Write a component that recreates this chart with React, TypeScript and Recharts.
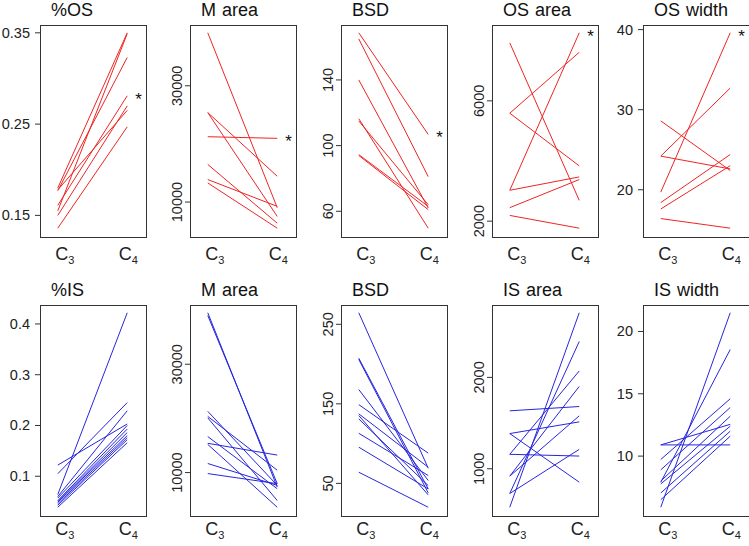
import React from 'react';
import { LineChart, Line, XAxis, YAxis } from 'recharts';

// values: C3 start, C4 end (one entry per line)
const osPctC3 = [0.180, 0.155, 0.177, 0.178, 0.161, 0.150, 0.136];
const osPctC4 = [0.350, 0.349, 0.323, 0.265, 0.281, 0.270, 0.247];

const mAreaTopC3 = [39110, 25385, 25385, 21236, 16465, 13872, 13284];
const mAreaTopC4 = [9032, 14442, 7528, 20960, 6370, 9257, 5505];

const bsdTopC3 = [168.7, 165.0, 140.0, 116.4, 115.0, 94.5, 94.0];
const bsdTopC4 = [106.8, 81.1, 62.0, 49.7, 64.0, 63.0, 61.0];

const osAreaC3 = [7928, 5589, 5589, 3026, 3026, 2448, 2190];
const osAreaC4 = [2692, 7614, 3838, 8262, 3470, 3383, 1766];

const osWidthC3 = [28.6, 24.2, 24.2, 19.7, 18.4, 17.6, 16.4];
const osWidthC4 = [22.4, 32.7, 22.6, 39.6, 24.4, 23.0, 15.2];

const isPctC3 = [0.122, 0.105, 0.064, 0.060, 0.057, 0.052, 0.050, 0.049, 0.046, 0.043, 0.039];
const isPctC4 = [0.203, 0.245, 0.422, 0.229, 0.200, 0.193, 0.186, 0.180, 0.176, 0.172, 0.166];

const mAreaBotC3 = [39503, 39000, 21304, 20373, 20100, 16646, 15404, 15200, 11677, 9814];
const mAreaBotC4 = [7329, 7950, 7640, 10435, 4845, 7019, 13230, 3603, 7640, 7950];

const bsdBotC3 = [264.5, 207.4, 205.8, 168, 149, 137.4, 135.3, 131, 113, 95.5, 64];
const bsdBotC4 = [69, 43, 38, 53.6, 88, 70.3, 35.5, 47.2, 59.9, 43, 20];

const isAreaC3 = [1634, 1385, 1385, 1158, 1158, 919, 919, 729, 729, 579];
const isAreaC4 = [1681, 1513, 853, 1139, 2070, 1901, 1579, 1212, 2392, 2707];

const isWidthC3 = [10.9, 10.9, 9.73, 8.9, 7.9, 7.77, 7.04, 6.5, 5.9, 8.0];
const isWidthC4 = [10.9, 12.55, 14.6, 13.9, 18.55, 12.4, 12.0, 11.6, 21.5, 13.2];

const groups = ['3', '4'];

const RED = '#ef2424';
const BLUE = '#2626dc';
const FONT = 'Liberation Sans, Arial, sans-serif';

const ML = 40, MT = 30, MR = 20, MB = 35;
const BOX_W = 105;
const colX = [40, 190, 341, 492, 643];
const rowY = [25, 305];
const rowH = [211, 210];
const labelDrop = [24, 20];

interface PanelProps {
    title: string;
    c3: number[];
    c4: number[];
    color: string;
    ticks: number[];
    rotated?: boolean;
    star?: number;
    col: number;
    row: number;
}

function Panel({ title, c3, c4, color, ticks, rotated, star, col, row }: PanelProps) {
    const data = [1, 2].map((x, i) => {
        const d: Record<string, number> = { x };
        (i === 0 ? c3 : c4).forEach((v, k) => { d['s' + k] = v; });
        return d;
    });
    const all = c3.concat(c4);
    const lo = Math.min(...all), hi = Math.max(...all);
    const pad = (hi - lo) * 0.04;
    const bx = colX[col], by = rowY[row], bh = rowH[row];

    const yTick = (p: any) => {
        const label = String(p.payload.value);
        if (rotated) {
            const cx = ML - 13;
            return (
                <text x={cx} y={p.y} transform={`rotate(-90, ${cx}, ${p.y})`} textAnchor="middle"
                    dominantBaseline="central" fontSize={14.5} fontFamily={FONT} fill="#222">{label}</text>
            );
        }
        return (
            <text x={ML - 10} y={p.y} textAnchor="end" dominantBaseline="central"
                fontSize={14.5} fontFamily={FONT} fill="#222">{label}</text>
        );
    };

    const xTick = (p: any) => {
        const sub = groups[p.index] ?? '';
        const dx = p.index === 0 ? 7 : 1;
        return (
            <text x={p.x + dx} y={MT + bh + labelDrop[row]} textAnchor="middle" fontSize={18}
                fontFamily={FONT} fill="#222">
                C<tspan fontSize={11} dy={4}>{sub}</tspan>
            </text>
        );
    };

    const starLabel = (p: any) => p.index === 1
        ? <text x={p.x + 8} y={p.y + 9} fontSize={17} fontFamily={FONT} fill="#111">*</text>
        : null;

    return (
        <>
            <div style={{
                position: 'absolute', left: bx + 11, top: by - 24, fontSize: 18, lineHeight: '18px',
                wordSpacing: 1, fontFamily: FONT, color: '#111', whiteSpace: 'nowrap'
            }}>{title}</div>
            <div style={{ position: 'absolute', left: bx - ML, top: by - MT }}>
                <LineChart width={BOX_W + ML + MR} height={bh + MT + MB} data={data}
                    margin={{ top: MT, right: MR, left: 0, bottom: 0 }}>
                    <XAxis dataKey="x" type="number" domain={[0.744, 2.256]} ticks={[1, 2]}
                        allowDataOverflow axisLine={false} tickLine={false} height={MB} tick={xTick} />
                    <YAxis type="number" domain={[lo - pad, hi + pad]} ticks={ticks} allowDataOverflow
                        width={ML} axisLine={false} tickSize={5} tickLine={{ stroke: '#333' }} tick={yTick} />
                    {c3.map((_, k) => (
                        <Line key={k} dataKey={'s' + k} stroke={color} strokeWidth={1} dot={false}
                            isAnimationActive={false} label={k === star ? starLabel : undefined} />
                    ))}
                </LineChart>
            </div>
            <div style={{
                position: 'absolute', left: bx - 0.5, top: by - 0.5, width: BOX_W, height: bh,
                border: '1px solid #333', pointerEvents: 'none'
            }} />
        </>
    );
}

export default function App() {
    return (
        <div style={{ position: 'absolute', left: 0, top: 0, width: 749, height: 546, background: '#fff', overflow: 'hidden' }}>
            <Panel title="%OS" c3={osPctC3} c4={osPctC4} color={RED} ticks={[0.15, 0.25, 0.35]} star={4} col={0} row={0} />
            <Panel title="M area" c3={mAreaTopC3} c4={mAreaTopC4} color={RED} ticks={[10000, 30000]} rotated star={3} col={1} row={0} />
            <Panel title="BSD" c3={bsdTopC3} c4={bsdTopC4} color={RED} ticks={[60, 100, 140]} rotated star={0} col={2} row={0} />
            <Panel title="OS area" c3={osAreaC3} c4={osAreaC4} color={RED} ticks={[2000, 6000]} rotated star={3} col={3} row={0} />
            <Panel title="OS width" c3={osWidthC3} c4={osWidthC4} color={RED} ticks={[20, 30, 40]} star={3} col={4} row={0} />
            <Panel title="%IS" c3={isPctC3} c4={isPctC4} color={BLUE} ticks={[0.1, 0.2, 0.3, 0.4]} col={0} row={1} />
            <Panel title="M area" c3={mAreaBotC3} c4={mAreaBotC4} color={BLUE} ticks={[10000, 30000]} rotated col={1} row={1} />
            <Panel title="BSD" c3={bsdBotC3} c4={bsdBotC4} color={BLUE} ticks={[50, 150, 250]} rotated col={2} row={1} />
            <Panel title="IS area" c3={isAreaC3} c4={isAreaC4} color={BLUE} ticks={[1000, 2000]} rotated col={3} row={1} />
            <Panel title="IS width" c3={isWidthC3} c4={isWidthC4} color={BLUE} ticks={[10, 15, 20]} col={4} row={1} />
        </div>
    );
}
